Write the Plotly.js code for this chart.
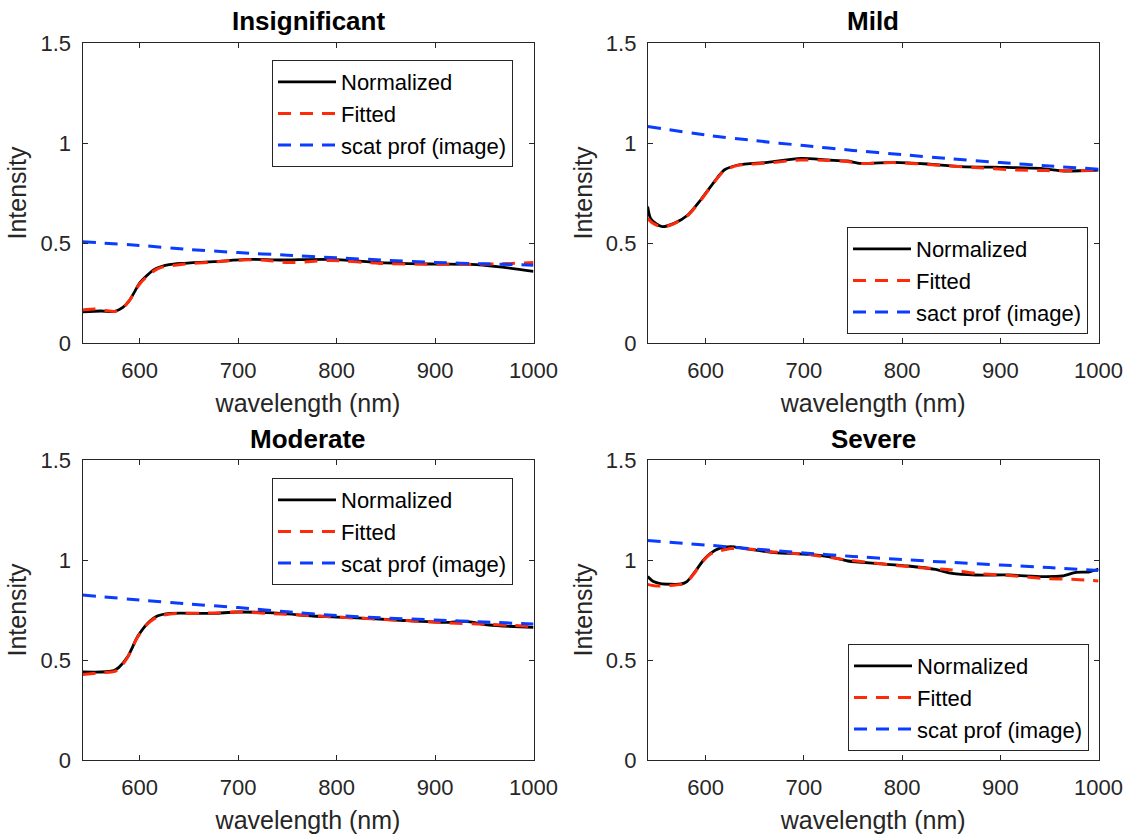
<!DOCTYPE html>
<html>
<head>
<meta charset="utf-8">
<script src="https://cdn.plot.ly/plotly-3.0.1.min.js"></script>
<style>html,body{margin:0;padding:0;background:#fff;}#chart{width:1131px;height:838px;}</style>
</head>
<body>
<div id="chart"></div>
<script>
// ---------- data ----------
const panelTitles = ['Insignificant', 'Mild', 'Moderate', 'Severe'];
const legendNames = [
  ['Normalized', 'Fitted', 'scat prof (image)'],
  ['Normalized', 'Fitted', 'sact prof (image)'],
  ['Normalized', 'Fitted', 'scat prof (image)'],
  ['Normalized', 'Fitted', 'scat prof (image)']
];
const xTickVals = [600, 700, 800, 900, 1000];
const yTickVals = [0, 0.5, 1, 1.5];
const yTickText = ['0', '0.5', '1', '1.5'];

// Insignificant
const insigNormWl = [542, 561, 574, 583, 590, 595, 600, 608, 615, 622, 630, 642, 676, 709, 743, 794, 844, 895, 936, 963, 1000];
const insigNorm   = [0.156, 0.160, 0.157, 0.178, 0.215, 0.257, 0.300, 0.340, 0.368, 0.382, 0.392, 0.398, 0.407, 0.418, 0.415, 0.418, 0.402, 0.395, 0.393, 0.382, 0.358];
const insigFitWl  = [542, 555, 565, 575, 583, 590, 600, 608, 615, 622, 642, 676, 709, 730, 750, 770, 794, 844, 895, 936, 963, 1000];
const insigFit    = [0.165, 0.170, 0.163, 0.158, 0.175, 0.215, 0.295, 0.335, 0.362, 0.378, 0.393, 0.405, 0.416, 0.413, 0.402, 0.406, 0.413, 0.398, 0.394, 0.394, 0.395, 0.402];
const insigScatWl = [542, 600, 650, 700, 750, 800, 850, 900, 950, 1000];
const insigScat   = [0.506, 0.488, 0.468, 0.452, 0.439, 0.426, 0.414, 0.403, 0.396, 0.389];

// Mild
const mildNormWl = [541, 544, 550, 556, 568, 582, 595, 609, 619, 633, 663, 697, 724, 744, 758, 792, 826, 860, 907, 941, 965, 1000];
const mildNorm   = [0.682, 0.623, 0.595, 0.582, 0.598, 0.640, 0.715, 0.807, 0.865, 0.890, 0.903, 0.923, 0.915, 0.910, 0.898, 0.903, 0.895, 0.882, 0.878, 0.873, 0.860, 0.865];
const mildFitWl  = [541, 546, 556, 568, 582, 595, 609, 619, 633, 663, 697, 724, 744, 758, 792, 826, 873, 917, 947, 975, 1000];
const mildFit    = [0.623, 0.600, 0.580, 0.597, 0.638, 0.713, 0.805, 0.862, 0.888, 0.900, 0.915, 0.913, 0.908, 0.898, 0.902, 0.893, 0.878, 0.865, 0.862, 0.862, 0.865];
const mildScatWl = [541, 600, 650, 700, 750, 800, 850, 900, 950, 1000];
const mildScat   = [1.082, 1.040, 1.012, 0.987, 0.963, 0.942, 0.921, 0.902, 0.885, 0.869];

// Moderate
const modNormWl = [542, 561, 574, 579, 588, 598, 608, 618, 631, 675, 699, 743, 776, 810, 860, 911, 931, 955, 1000];
const modNorm   = [0.440, 0.440, 0.447, 0.463, 0.517, 0.617, 0.683, 0.720, 0.733, 0.733, 0.740, 0.733, 0.720, 0.713, 0.700, 0.688, 0.693, 0.675, 0.663];
const modFitWl  = [542, 561, 575, 580, 588, 598, 608, 618, 631, 675, 700, 743, 810, 860, 911, 955, 1000];
const modFit    = [0.428, 0.436, 0.443, 0.460, 0.515, 0.615, 0.680, 0.716, 0.730, 0.735, 0.740, 0.730, 0.712, 0.700, 0.686, 0.678, 0.668];
const modScatWl = [542, 600, 650, 700, 750, 800, 850, 900, 950, 1000];
const modScat   = [0.825, 0.800, 0.780, 0.762, 0.741, 0.722, 0.710, 0.700, 0.690, 0.680];

// Severe
const sevNormWl = [541, 547, 554, 575, 581, 588, 598, 605, 614, 626, 639, 670, 704, 725, 745, 772, 806, 834, 851, 875, 909, 943, 963, 977, 990, 1000];
const sevNorm   = [0.917, 0.892, 0.882, 0.880, 0.892, 0.933, 1.000, 1.033, 1.058, 1.067, 1.058, 1.037, 1.028, 1.017, 0.995, 0.983, 0.970, 0.953, 0.933, 0.925, 0.925, 0.917, 0.920, 0.938, 0.940, 0.955];
const sevFitWl  = [541, 550, 575, 581, 588, 598, 605, 614, 626, 639, 670, 704, 745, 806, 851, 875, 909, 943, 977, 1000];
const sevFit    = [0.878, 0.870, 0.878, 0.890, 0.930, 0.998, 1.030, 1.045, 1.057, 1.057, 1.040, 1.028, 1.000, 0.967, 0.950, 0.933, 0.923, 0.908, 0.903, 0.895];
const sevScatWl = [541, 600, 650, 700, 750, 800, 850, 900, 950, 1000];
const sevScat   = [1.097, 1.075, 1.055, 1.035, 1.018, 1.002, 0.988, 0.975, 0.962, 0.948];

// ---------- build ----------
const panels = [
  {nx: insigNormWl, ny: insigNorm, fx: insigFitWl, fy: insigFit, sx: insigScatWl, sy: insigScat},
  {nx: mildNormWl, ny: mildNorm, fx: mildFitWl, fy: mildFit, sx: mildScatWl, sy: mildScat},
  {nx: modNormWl, ny: modNorm, fx: modFitWl, fy: modFit, sx: modScatWl, sy: modScat},
  {nx: sevNormWl, ny: sevNorm, fx: sevFitWl, fy: sevFit, sx: sevScatWl, sy: sevScat}
];

const W = 1131, H = 838;
const xDom = [[82.5 / W, 533.5 / W], [647.8 / W, 1098.5 / W]];
const yDom = [[1 - 343 / H, 1 - 43 / H], [1 - 760 / H, 1 - 460 / H]];
const xRanges = [[542, 1000], [541.2, 1000], [542, 1000], [541.2, 1000]];
const FONT = 'Liberation Sans, Arial, Helvetica, sans-serif';
const AX = '#262626';

const traces = [];
const layout = {
  width: W, height: H,
  margin: {l: 0, r: 0, t: 0, b: 0},
  paper_bgcolor: '#ffffff', plot_bgcolor: '#ffffff',
  font: {family: FONT, color: AX},
  annotations: []
};

const legendPos = [
  {x: 513 / W, y: 1 - 60 / H, xanchor: 'right', yanchor: 'top'},
  {x: 1088 / W, y: 1 - 334 / H, xanchor: 'right', yanchor: 'bottom'},
  {x: 513 / W, y: 1 - 478 / H, xanchor: 'right', yanchor: 'top'},
  {x: 1089 / W, y: 1 - 751 / H, xanchor: 'right', yanchor: 'bottom'}
];

panels.forEach((p, i) => {
  const n = i + 1;
  const xa = n === 1 ? 'x' : 'x' + n;
  const ya = n === 1 ? 'y' : 'y' + n;
  const lg = n === 1 ? 'legend' : 'legend' + n;
  const col = i % 2, row = Math.floor(i / 2);
  traces.push({x: p.nx, y: p.ny, xaxis: xa, yaxis: ya, legend: lg, name: legendNames[i][0],
    mode: 'lines', line: {color: '#000000', width: 2.8, shape: 'spline', smoothing: 0.7}});
  traces.push({x: p.fx, y: p.fy, xaxis: xa, yaxis: ya, legend: lg, name: legendNames[i][1],
    mode: 'lines', line: {color: '#ff2a0a', width: 3, dash: '13px,9px', shape: 'spline', smoothing: 0.7}});
  traces.push({x: p.sx, y: p.sy, xaxis: xa, yaxis: ya, legend: lg, name: legendNames[i][2],
    mode: 'lines', line: {color: '#0a3cff', width: 3, dash: '13px,9px', shape: 'spline', smoothing: 0.7}});

  const axCommon = {
    showline: true, linecolor: AX, linewidth: 1, mirror: 'ticks',
    ticks: 'inside', ticklen: 5, tickwidth: 1, tickcolor: AX,
    showgrid: false, zeroline: false, fixedrange: true,
    tickfont: {family: FONT, size: 22, color: AX}
  };
  layout['xaxis' + (n === 1 ? '' : n)] = Object.assign({}, axCommon, {
    domain: xDom[col], anchor: ya, range: xRanges[i],
    tickmode: 'array', tickvals: xTickVals, ticklabelstandoff: 8,
    title: {text: 'wavelength (nm)', font: {family: FONT, size: 25, color: AX}, standoff: 12}
  });
  layout['yaxis' + (n === 1 ? '' : n)] = Object.assign({}, axCommon, {
    domain: yDom[row], anchor: xa, range: [0, 1.5],
    tickmode: 'array', tickvals: yTickVals, ticktext: yTickText, ticklabelstandoff: 6,
    title: {text: 'Intensity', font: {family: FONT, size: 25, color: AX}, standoff: 6}
  });
  layout[lg] = Object.assign({}, legendPos[i], {
    bgcolor: '#ffffff', bordercolor: AX, borderwidth: 1,
    font: {family: FONT, size: 22, color: '#000000'},
    tracegroupgap: 0, itemwidth: 58
  });
  layout.annotations.push({
    text: '<b>' + panelTitles[i] + '</b>', xref: 'paper', yref: 'paper',
    x: (xDom[col][0] + xDom[col][1]) / 2, y: row === 0 ? 1 - 21 / H : 1 - 439 / H,
    xanchor: 'center', yanchor: 'middle', showarrow: false,
    font: {family: FONT, size: 26, color: '#000000'}
  });
});

Plotly.newPlot('chart', traces, layout, {displayModeBar: false, staticPlot: true});
</script>
</body>
</html>
